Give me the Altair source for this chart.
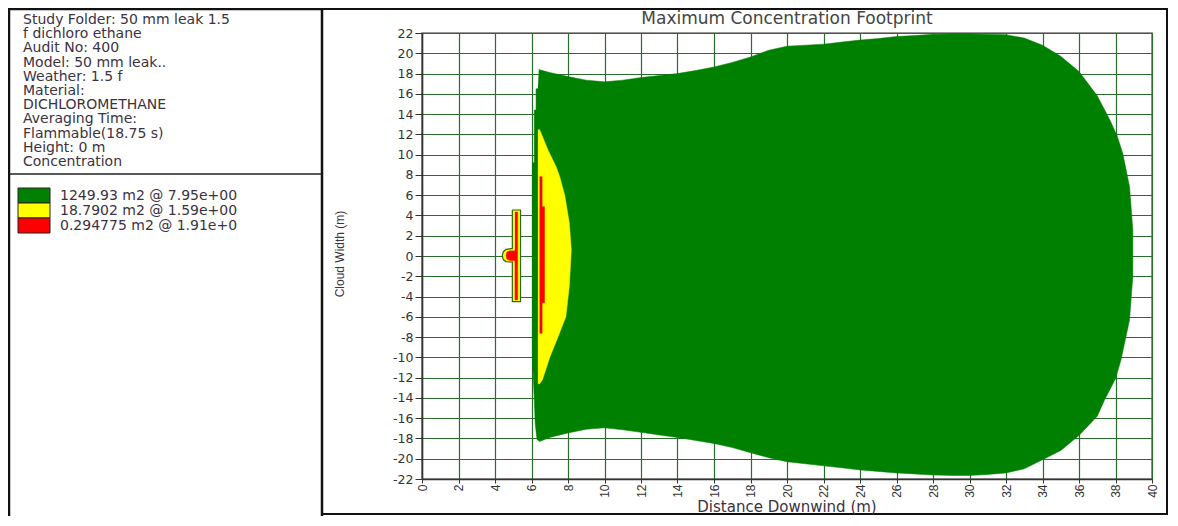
import altair as alt
import pandas as pd

# ---------------- data ----------------
x_ticks = list(range(0, 41, 2))
y_ticks = list(range(-22, 23, 2))

info_lines = [
    "Study Folder: 50 mm leak 1.5",
    "f dichloro ethane",
    "Audit No: 400",
    "Model: 50 mm leak..",
    "Weather: 1.5 f",
    "Material:",
    "DICHLOROMETHANE",
    "Averaging Time:",
    "Flammable(18.75 s)",
    "Height: 0 m",
    "Concentration",
]
legend_labels = ["1249.93 m2 @ 7.95e+00", "18.7902 m2 @ 1.59e+00", "0.294775 m2 @ 1.91e+0"]
legend_colors = ["#008000", "#ffff00", "#ff0000"]

# outer (green) footprint contour
green_x = [6.4, 7, 8, 9, 10, 11, 12, 13, 14, 15, 16, 17, 18, 19, 20, 21, 22, 23, 24, 25, 26, 27,
           28, 29, 30, 31, 32, 33, 34, 35, 36, 37, 37.7, 38.1, 38.4, 38.77, 38.95,
           38.95, 38.77, 38.3, 38.0, 37.4, 37, 36, 35, 34, 33, 32, 31, 30, 29, 28, 27, 26,
           25, 24, 23, 22, 21, 20, 19, 18, 17, 16, 15, 14, 13, 12, 11, 10, 9, 8, 7, 6.45,
           6.3, 6.2, 6.15, 6.05, 6.05, 6.15, 6.15, 6.25, 6.25, 6.35]
green_y = [18.4, 18.1, 17.7, 17.35, 17.18, 17.35, 17.6, 17.8, 18.0, 18.3, 18.65, 19.1, 19.64, 20.3,
           20.7, 20.8, 20.9, 21.1, 21.3, 21.45, 21.65, 21.75, 21.87, 21.9, 21.9, 21.88, 21.83,
           21.5, 20.8, 19.7, 18.2, 15.8, 13.4, 11.8, 10.1, 6.84, 2.57,
           -2.0, -6.3, -10.26, -12.1, -14.2, -15.8, -17.7, -19.2, -20.1, -21.0, -21.4, -21.55,
           -21.65, -21.65, -21.6, -21.5, -21.4, -21.25, -21.1, -20.9, -20.7, -20.5, -20.3,
           -19.9, -19.4, -18.9, -18.5, -18.2, -17.9, -17.65, -17.4, -17.15, -16.95, -17.1,
           -17.45, -17.9, -18.3, -18.1, -16.5, -14.0, -10.0, 9.2, 9.2, 14.4, 14.4, 16.5, 16.5]

# middle (yellow) contour
yellow_x = [6.35, 6.45, 6.9, 7.35, 7.55, 7.82, 8.07, 8.18, 8.07, 7.88, 7.45, 7.0, 6.6, 6.45, 6.35]
yellow_y = [12.45, 12.45, 10.45, 8.8, 7.8, 6.0, 3.25, 0.6, -3.0, -6.0, -8.0, -10.0, -12.2, -12.6, -12.6]

# inner (red) contour
red_x = [6.44, 6.58, 6.58, 6.71, 6.71, 6.58, 6.58, 6.44]
red_y = [7.83, 7.83, 4.87, 4.87, -4.6, -4.6, -7.62, -7.62]

# small source contour near x = 5 (yellow with dark outline) and its red core
src_x = [4.95, 5.4, 5.4, 4.95, 4.95, 4.6, 4.45, 4.4, 4.45, 4.6, 4.95, 4.95]
src_y = [4.54, 4.54, -4.5, -4.5, -0.6, -0.55, -0.35, 0.05, 0.4, 0.65, 0.75, 4.54]
core_x = [5.09, 5.24, 5.24, 5.09, 5.09, 4.8, 4.65, 4.6, 4.65, 4.8, 5.09]
core_y = [4.35, 4.35, -4.34, -4.34, -0.47, -0.45, -0.3, 0.05, 0.4, 0.53, 0.53]


def poly(xs, ys):
    return pd.DataFrame({"x": xs, "y": ys, "i": list(range(len(xs)))})


W, H = 730, 446
FONT = "DejaVu Sans"
ARIAL = "Liberation Sans"
TXT = "#3b3242"
GRID = "#2b6b2b"

xs = alt.X(
    "x:Q",
    scale=alt.Scale(domain=[0, 40], nice=False, zero=False),
    axis=alt.Axis(
        values=x_ticks, title=None, labelAngle=270, labelAlign="right", labelBaseline="middle",
        labelFont=ARIAL, labelFontSize=12, labelColor="#333333", labelPadding=1,
        labelExpr="'' + datum.value", labelOverlap=False, labelFlush=False,
        tickSize=4, tickColor="#333333", domainColor="#333333", domainWidth=1.5,
        grid=True, gridColor=GRID, gridWidth=1.2,
    ),
)
ys = alt.Y(
    "y:Q",
    scale=alt.Scale(domain=[-22, 22], nice=False, zero=False),
    axis=alt.Axis(
        values=y_ticks, title=None, labelFont=FONT, labelFontSize=12.5, labelColor="#333333",
        labelPadding=2, labelExpr="'' + datum.value", labelOverlap=False, labelFlush=False,
        tickSize=7, tickColor="#333333", domainColor="#333333", domainWidth=1.5,
        grid=True, gridColor=GRID, gridWidth=1.2,
    ),
)

def shape(xv, yv, fill, stroke, sw):
    return alt.Chart(poly(xv, yv)).mark_line(
        fill=fill, stroke=stroke, strokeWidth=sw, interpolate="linear"
    ).encode(x=xs, y=ys, order="i:Q")

green = shape(green_x, green_y, "#008000", "#008000", 0.5)
yellow = shape(yellow_x, yellow_y, "#ffff00", "#ffff00", 0.5)
red = shape(red_x, red_y, "#ff0000", "#ff0000", 0.5)
src = shape(src_x, src_y, "#ffff00", "#2a6a10", 1.2)
core = shape(core_x, core_y, "#ff0000", "#ff0000", 0.3)

one = pd.DataFrame({"a": [0]})

def box(x1, x2, y1, y2, sw):
    return alt.Chart(one).mark_rect(fill="transparent", stroke="#111111", strokeWidth=sw).encode(
        x=alt.value(x1), x2=alt.value(x2), y=alt.value(y1), y2=alt.value(y2))

left_box = box(-413, -100, -24, 495, 2.5)
right_box = box(-100, 745, -24, 481, 2)
divider = alt.Chart(one).mark_rule(color="#222222", strokeWidth=1.5).encode(
    x=alt.value(-413), x2=alt.value(-100), y=alt.value(141))

info = alt.Chart(one).mark_text(
    text=info_lines, align="left", baseline="top", font=FONT, fontSize=14,
    lineHeight=14.2, color=TXT).encode(x=alt.value(-399), y=alt.value(-20))

legend_layers = []
for k, (c, lab) in enumerate(zip(legend_colors, legend_labels)):
    legend_layers.append(alt.Chart(one).mark_rect(fill=c, stroke="#222222", strokeWidth=1).encode(
        x=alt.value(-404), x2=alt.value(-372), y=alt.value(155 + 15 * k), y2=alt.value(170 + 15 * k)))
    legend_layers.append(alt.Chart(one).mark_text(
        text=lab, align="left", baseline="middle", font=FONT, fontSize=14, color=TXT,
        limit=255).encode(x=alt.value(-362), y=alt.value(162.5 + 15 * k)))

title = alt.Chart(one).mark_text(
    text="Maximum Concentration Footprint", align="center", baseline="middle", font=FONT,
    fontSize=17, color="#444444").encode(x=alt.value(W / 2), y=alt.value(-14))
ytitle = alt.Chart(one).mark_text(
    text="Cloud Width (m)", align="center", baseline="middle", font=ARIAL, fontSize=12,
    angle=270, color="#3b3242").encode(x=alt.value(-82), y=alt.value(221))
xtitle = alt.Chart(one).mark_text(
    text="Distance Downwind (m)", align="center", baseline="middle", font=FONT, fontSize=15,
    color=TXT).encode(x=alt.value(W / 2), y=alt.value(474))

chart = alt.layer(
    green, yellow, red, src, core,
    left_box, right_box, divider, info, *legend_layers, title, ytitle, xtitle,
).properties(
    width=W, height=H,
    autosize=alt.AutoSizeParams(type="none"),
    padding={"left": 414, "top": 25, "right": 16, "bottom": 37},
    background="white",
).configure_view(stroke="#777777", strokeWidth=1.5)

chart.save("out.html", embed_options={"renderer": "svg", "actions": False})
